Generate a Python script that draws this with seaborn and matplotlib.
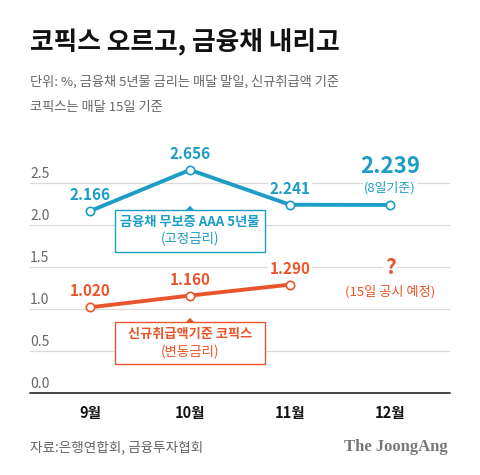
import matplotlib
matplotlib.use('Agg')
import matplotlib.pyplot as plt
import matplotlib.transforms as mtransforms
from matplotlib.patches import Rectangle, Polygon
import seaborn as sns
import pandas as pd

# ---- data ----
months = ['9월', '10월', '11월', '12월']
bond_rates = [2.166, 2.656, 2.241, 2.239]
bond_labels = ['2.166', '2.656', '2.241', '2.239']
cofix_rates = [1.020, 1.160, 1.290]
cofix_labels = ['1.020', '1.160', '1.290']
y_ticks = [0.0, 0.5, 1.0, 1.5, 2.0, 2.5]
y_tick_labels = ['0.0', '0.5', '1.0', '1.5', '2.0', '2.5']

title = '코픽스 오르고, 금융채 내리고'
subtitle1 = '단위: %, 금융채 5년물 금리는 매달 말일, 신규취급액 기준'
subtitle2 = '코픽스는 매달 15일 기준'
source = '자료:은행연합회, 금융투자협회'
brand = 'The JoongAng'

sns.set_theme(style='white')
plt.rcParams['font.family'] = ['Noto Sans CJK KR', 'DejaVu Sans']

BLUE = '#1b9dc6'
ORANGE = '#e9552b'
GRAY = '#666666'

fig = plt.figure(figsize=(4.8, 4.75), dpi=100)
ymax = 2.9
ax = fig.add_axes([30 / 480, (475 - 393) / 475, 420 / 480, ymax * 84 / 475])

df_b = pd.DataFrame({'x': list(range(len(bond_rates))), 'y': bond_rates})
df_c = pd.DataFrame({'x': list(range(len(cofix_rates))), 'y': cofix_rates})

sns.lineplot(data=df_b, x='x', y='y', ax=ax, color=BLUE, lw=2.8, marker='o',
             markersize=6, markerfacecolor='white', markeredgecolor=BLUE,
             markeredgewidth=1.2, zorder=4)
sns.lineplot(data=df_c, x='x', y='y', ax=ax, color=ORANGE, lw=2.8, marker='o',
             markersize=6, markerfacecolor='white', markeredgecolor=ORANGE,
             markeredgewidth=1.2, zorder=4)

ax.set_xlim(-0.6, 3.6)
ax.set_ylim(0, ymax)
for s in ax.spines.values():
    s.set_visible(False)
ax.set_xlabel('')
ax.set_ylabel('')
ax.set_yticks([])
ax.set_xticks(range(len(months)), months)
ax.tick_params(axis='x', length=0, pad=8.5)
for t in ax.get_xticklabels():
    t.set_fontweight('bold')
    t.set_fontsize(10.5)
    t.set_color('#111111')

# grid lines and y labels
ytrans = mtransforms.offset_copy(
    mtransforms.blended_transform_factory(ax.transAxes, ax.transData),
    fig=fig, y=2, units='dots')
for v, lab in zip(y_ticks, y_tick_labels):
    if v == 0:
        ax.axhline(v, color='#444444', lw=1.4, zorder=2, clip_on=False)
    else:
        ax.axhline(v, color='#dadada', lw=0.9, zorder=1)
    ax.text(0, v, lab, transform=ytrans, ha='left', va='bottom',
            fontsize=10, color=GRAY)

wbox = dict(fc='white', ec='none', pad=1.0)

# value labels
for i, (v, lab) in enumerate(zip(bond_rates[:3], bond_labels[:3])):
    ax.annotate(lab, (i, v), xytext=(0, 11.5), textcoords='offset points',
                ha='center', va='center', color=BLUE, fontsize=11,
                fontweight='bold', bbox=wbox, zorder=3)
ax.annotate(bond_labels[3], (3, bond_rates[3]), xytext=(0, 28),
            textcoords='offset points', ha='center', va='center', color=BLUE,
            fontsize=16, fontweight='bold', zorder=3)
ax.annotate('(8일기준)', (3, bond_rates[3]), xytext=(0, 12.2),
            textcoords='offset points', ha='center', va='center', color=BLUE,
            fontsize=9.3, bbox=wbox, zorder=3)
for i, (v, lab) in enumerate(zip(cofix_rates, cofix_labels)):
    ax.annotate(lab, (i, v), xytext=(0, 11.5), textcoords='offset points',
                ha='center', va='center', color=ORANGE, fontsize=11,
                fontweight='bold', bbox=wbox, zorder=3)

ax.text(3, 1.49, '?', ha='center', va='center', color=ORANGE, fontsize=15,
        fontweight='bold', bbox=wbox, zorder=3)
ax.text(3, 1.20, '(15일 공시 예정)', ha='center', va='center', color=ORANGE,
        fontsize=9.5, bbox=wbox, zorder=3)

# legend-like boxes
def label_box(y0, y1, color, line1, line2, ty1, ty2):
    ax.add_patch(Rectangle((0.25, y0), 1.5, y1 - y0, fc='white', ec=color,
                           lw=1.0, zorder=5))
    ax.add_patch(Polygon([(0.96, y1), (1.04, y1), (1.0, y1 + 0.05)],
                         closed=True, fc=color, ec='none', zorder=5))
    ax.text(1.0, ty1, line1, ha='center', va='center', color=color,
            fontsize=9.5, fontweight='bold', zorder=6)
    ax.text(1.0, ty2, line2, ha='center', va='center', color=color,
            fontsize=9.7, zorder=6)

label_box(1.679, 2.179, BLUE, '금융채 무보증 AAA 5년물', '(고정금리)', 2.036, 1.833)
label_box(0.345, 0.845, ORANGE, '신규취급액기준 코픽스', '(변동금리)', 0.70, 0.49)

# titles and footer
fig.text(30 / 480, 1 - 43 / 475, title, ha='left', va='center',
         fontsize=18.5, fontweight='heavy', color='#111111')
fig.text(30 / 480, 1 - 82 / 475, subtitle1, ha='left', va='center',
         fontsize=9.5, color=GRAY)
fig.text(30 / 480, 1 - 107 / 475, subtitle2, ha='left', va='center',
         fontsize=9.5, color=GRAY)
fig.text(30 / 480, 1 - 447 / 475, source, ha='left', va='center',
         fontsize=9.8, color=GRAY)
fig.text(448 / 480, 1 - 447 / 475, brand, ha='right', va='center',
         fontsize=12, fontweight='bold', color='#777777',
         family=['Liberation Serif', 'DejaVu Serif'])

fig.savefig('out.png', dpi=100, facecolor='white')
